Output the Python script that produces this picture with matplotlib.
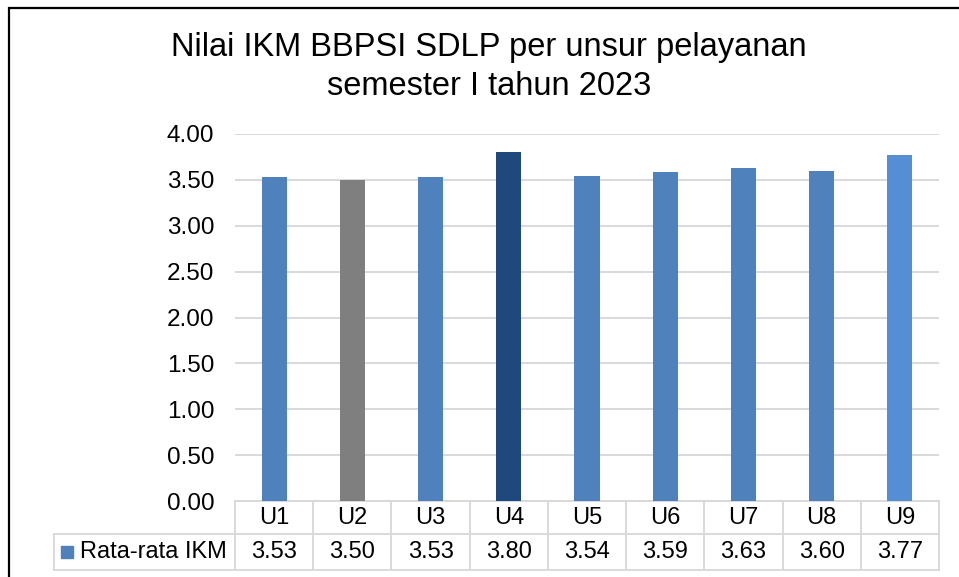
import matplotlib
matplotlib.use("Agg")
import matplotlib.pyplot as plt
from matplotlib.patches import Rectangle
from matplotlib.transforms import blended_transform_factory

plt.rcParams['font.family'] = ['Liberation Sans', 'DejaVu Sans']

units = ['U1', 'U2', 'U3', 'U4', 'U5', 'U6', 'U7', 'U8', 'U9']
ikm = [3.53, 3.50, 3.53, 3.80, 3.54, 3.59, 3.63, 3.60, 3.77]
series_name = 'Rata-rata IKM'
title = 'Nilai IKM BBPSI SDLP per unsur pelayanan\nsemester I tahun 2023'
yticks = [0, 0.5, 1.0, 1.5, 2.0, 2.5, 3.0, 3.5, 4.0]

blue = '#4F81BD'
colors = [blue, '#7F7F7F', blue, '#1F497D', blue, blue, blue, blue, '#558ED5']
grid_c = '#D9D9D9'

W, H = 959, 577
fig = plt.figure(figsize=(W / 100, H / 100), dpi=100)
ax = fig.add_axes([235 / W, 1 - 501 / H, (939 - 235) / W, (501 - 134) / H])

x = list(range(len(units)))
ax.bar(x, ikm, width=0.32, color=colors, zorder=3)
ax.set_xlim(-0.5, len(units) - 0.5)
ax.set_ylim(0, 4)
ax.set_yticks(yticks)
ax.set_yticklabels(['%.2f' % t for t in yticks], fontsize=17.5)
ax.tick_params(axis='y', length=0, pad=15)
ax.set_xticks([])
ax.grid(axis='y', color=grid_c, lw=1.4, zorder=0)
for s in ax.spines.values():
    s.set_visible(False)

fig.text(489 / W, 1 - 67 / H, title, ha='center', va='center', fontsize=23.5,
         linespacing=1.3)

# data table below the plot
trans = blended_transform_factory(ax.transData, ax.transAxes)
ah = 501 - 134
r0, r1, r2 = 0, -33 / ah, -69 / ah
left = (54 - 235) / 78.22 - 0.5
n = len(units)
kw = dict(transform=trans, clip_on=False, color=grid_c, lw=1.4, zorder=1)
ax.plot([-0.5, n - 0.5], [r0, r0], **kw)
ax.plot([left, n - 0.5], [r1, r1], **kw)
ax.plot([left, n - 0.5], [r2, r2], **kw)
ax.plot([left, left], [r1, r2], **kw)
for i in range(n + 1):
    ax.plot([i - 0.5, i - 0.5], [r0, r2], **kw)
for i, (u, v) in enumerate(zip(units, ikm)):
    ax.text(i, (r0 + r1) / 2, u, transform=trans, ha='center', va='center',
            fontsize=17)
    ax.text(i, (r1 + r2) / 2, '%.2f' % v, transform=trans, ha='center',
            va='center', fontsize=17)
ax.plot([left + 0.16], [(r1 + r2) / 2], marker='s', ms=8, color=blue,
        transform=trans, clip_on=False, ls='none')
ax.text(left + 0.33, (r1 + r2) / 2, series_name, transform=trans, ha='left',
        va='center', fontsize=17)

# outer frame
fig.add_artist(Rectangle((9 / W, -0.05), 1.1, 1 - 7.5 / H + 0.05,
                         transform=fig.transFigure, fill=False, ec='black',
                         lw=1.6))

fig.savefig('out.png', dpi=100)
